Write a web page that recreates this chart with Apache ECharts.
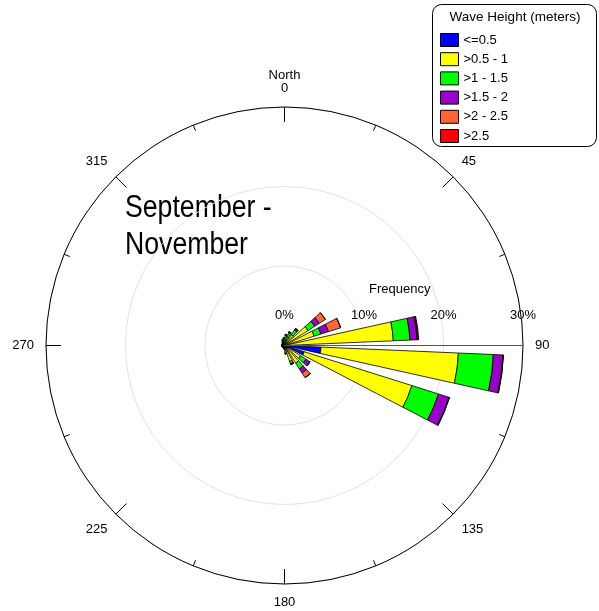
<!DOCTYPE html>
<html><head><meta charset="utf-8">
<script src="https://cdn.jsdelivr.net/npm/echarts@6/dist/echarts.min.js"></script>
<style>html,body{margin:0;padding:0;background:#fff}#c{width:599px;height:611px}</style>
</head><body><div id="c"></div>
<script>
// Direction sector centres (degrees from North), 15-degree sectors
const directions = ['7.5','22.5','37.5','52.5','67.5','82.5','97.5','112.5','127.5','142.5','157.5','172.5',
  '187.5','202.5','217.5','232.5','247.5','262.5','277.5','292.5','307.5','322.5','337.5','352.5'];
// Frequency (%) per wave-height class
const wh_le05  = [0.1,0.1,0.1,0.2,0.2,0.4,4.6,2.6,0.6,0.3,0.2,0.15,0.1,0.1,0.1,0.1,0.1,0.1,0.1,0.1,0.1,0.1,0.1,0.1];
const wh_05_1  = [0.7,1.0,1.5,3.3,3.7,13.3,17.3,14.2,1.8,2.3,1.9,0.8,0.3,0.2,0.2,0.2,0.2,0.2,0.2,0.2,0.2,0.3,0.4,0.5];
const wh_1_15  = [0.5,0.6,0.7,1.0,0.9,2.1,4.4,3.5,0.8,0.9,0.3,0.1,0.05,0.05,0.05,0.05,0.05,0.05,0.05,0.05,0.05,0.1,0.2,0.3];
const wh_15_2  = [0.1,0.1,0.2,0.7,1.0,0.9,1.2,1.4,0.6,0.6,0.1,0,0,0,0,0,0,0,0,0,0,0,0.05,0.05];
const wh_2_25  = [0,0,0.05,0.9,1.6,0.1,0.05,0.05,0,0.7,0,0,0,0,0,0,0,0,0,0,0,0,0,0];
const wh_gt25  = [0,0,0,0,0,0.1,0.02,0.02,0,0,0,0,0,0,0,0,0,0,0,0,0,0,0,0];
const classNames = ['<=0.5','>0.5 - 1','>1 - 1.5','>1.5 - 2','>2 - 2.5','>2.5'];
const classColors = ['#0000ff','#ffff00','#00ff00','#9900cc','#ff6633','#ff0000'];
const classData = [wh_le05, wh_05_1, wh_1_15, wh_15_2, wh_2_25, wh_gt25];
const angleTicks = [0,45,90,135,180,225,270,315];
const radiusTicks = [0,10,20,30];

const FONT = 'Liberation Sans, Arial, sans-serif';
const chart = echarts.init(document.getElementById('c'), null, {renderer:'canvas'});
const C = [284.5, 345.5], R = 238.5;

const option = {
  animation: false,
  backgroundColor: '#fff',
  textStyle: {fontFamily: FONT},
  polar: [{center: C, radius: R}, {center: C, radius: R}, {center: C, radius: R}],
  angleAxis: [
    {polarIndex: 0, type: 'category', data: directions, startAngle: 90, clockwise: true, show: false},
    {polarIndex: 1, type: 'value', min: angleTicks[0], max: 360, interval: 45, startAngle: 90, clockwise: true, z: 5,
      axisLine: {lineStyle: {color: '#000', width: 1}},
      axisTick: {inside: true, length: 15, lineStyle: {color: '#000', width: 1}},
      minorTick: {show: true, splitNumber: 2, length: 6, lineStyle: {color: '#000', width: 1}},
      splitLine: {show: false}, minorSplitLine: {show: false},
      axisLabel: {margin: 12, fontSize: 13, color: '#000', fontFamily: FONT,
        formatter: v => (v === 0 ? 'North\n0' : (angleTicks.indexOf(v) >= 0 ? String(v) : ''))}
    },
    {polarIndex: 2, type: 'value', min: 0, max: 360, startAngle: 0, show: false}
  ],
  radiusAxis: [
    {polarIndex: 0, min: 0, max: 30, show: false},
    {polarIndex: 1, min: radiusTicks[0], max: 30, interval: 10,
      axisLine: {show: false}, axisTick: {show: false}, axisLabel: {show: false},
      splitLine: {show: true, lineStyle: {color: '#e2e2e2', width: 1}}},
    {polarIndex: 2, min: 0, max: 30, interval: 10, z: 6,
      axisLine: {show: true, lineStyle: {color: '#555', width: 1}},
      axisTick: {show: false}, splitLine: {show: false},
      axisLabel: {margin: 24, fontSize: 13, color: '#000', fontFamily: FONT, formatter: '{value}%'},
      name: 'Frequency', nameLocation: 'middle', nameGap: -63,
      nameTextStyle: {fontSize: 13, color: '#000', fontFamily: FONT, padding: [0, 8, 0, 0]}}
  ],
  legend: {
    orient: 'vertical', left: 440, top: 33, padding: 0,
    icon: 'rect',
    itemWidth: 18, itemHeight: 13, itemGap: 5.2,
    data: classNames,
    textStyle: {fontSize: 13, color: '#000', fontFamily: FONT},
    itemStyle: {borderColor: '#000', borderWidth: 1}
  },
  graphic: [
    {type: 'rect', z: -1, shape: {x: 432.5, y: 4.5, width: 164, height: 142, r: 9},
      style: {fill: '#fff', stroke: '#000', lineWidth: 1}},
    {type: 'text', x: 515, y: 10, style: {text: 'Wave Height (meters)', fontSize: 13.5, fill: '#000',
      fontFamily: FONT, align: 'center', textAlign: 'center'}},
    {type: 'text', x: 125, y: 190, scaleX: 0.86, style: {text: 'September -\nNovember', fontSize: 31,
      lineHeight: 37, fill: '#000', fontFamily: FONT}}
  ],
  series: classNames.map((name, i) => ({
    name: name, type: 'bar', coordinateSystem: 'polar', polarIndex: 0, stack: 'total',
    barCategoryGap: '33%',
    itemStyle: {color: classColors[i], borderColor: '#000', borderWidth: 0.8},
    data: classData[i]
  }))
};
chart.setOption(option);
</script>
</body></html>
